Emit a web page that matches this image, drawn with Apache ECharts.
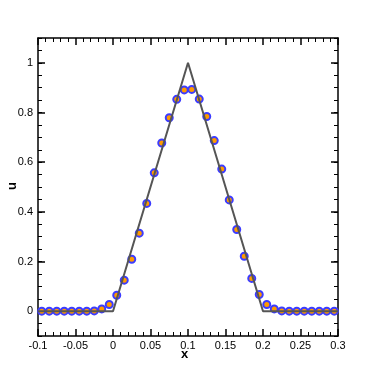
<!DOCTYPE html>
<html>
<head>
<meta charset="utf-8">
<script src="https://cdn.jsdelivr.net/npm/echarts@6/dist/echarts.min.js"></script>
<style>
  html, body { margin: 0; padding: 0; background: #fff; }
  #chart { width: 374px; height: 374px; }
</style>
</head>
<body>
<div id="chart"></div>
<script>
// cell-centre positions of the numerical solution
let xs = [-0.095, -0.085, -0.075, -0.065, -0.055, -0.045, -0.035, -0.025, -0.015, -0.005,
  0.005, 0.015, 0.025, 0.035, 0.045, 0.055, 0.065, 0.075, 0.085, 0.095,
  0.105, 0.115, 0.125, 0.135, 0.145, 0.155, 0.165, 0.175, 0.185, 0.195,
  0.205, 0.215, 0.225, 0.235, 0.245, 0.255, 0.265, 0.275, 0.285, 0.295];
let uNum = [0, 0, 0, 0, 0, 0, 0, 0.001, 0.009, 0.027,
  0.064, 0.125, 0.209, 0.314, 0.434, 0.557, 0.677, 0.779, 0.853, 0.891,
  0.893, 0.854, 0.784, 0.687, 0.572, 0.448, 0.329, 0.221, 0.132, 0.067,
  0.027, 0.009, 0.001, 0, 0, 0, 0, 0, 0, 0];
// exact solution (triangle)
let xExact = [-0.1, 0, 0.1, 0.2, 0.3];
let uExact = [0, 0, 1, 0, 0];
let yMajor = [0, 0.2, 0.4, 0.6, 0.8, 1];

let font = 'Liberation Sans, Arial, sans-serif';

function xAxis(pos, labels) {
  return {
    type: 'value', position: pos, min: -0.1, max: 0.3, interval: 0.05,
    axisLine: { show: true, onZero: false, lineStyle: { color: '#000', width: 1.5 } },
    axisTick: { show: true, inside: true, length: 7, lineStyle: { color: '#000', width: 1.5 } },
    minorTick: { show: true, splitNumber: 5, length: 4, lineStyle: { color: '#000', width: 1 } },
    axisLabel: { show: labels, color: '#000', fontSize: 11, fontFamily: font, margin: 4 },
    splitLine: { show: false }, minorSplitLine: { show: false }
  };
}
function yMajorAxis(pos, labels) {
  return {
    type: 'value', position: pos, min: -0.1, max: 1.1,
    axisLine: { show: true, onZero: false, lineStyle: { color: '#000', width: 1.5 } },
    axisTick: { show: true, inside: true, length: 7, customValues: yMajor, lineStyle: { color: '#000', width: 1.5 } },
    axisLabel: { show: labels, customValues: yMajor, color: '#000', fontSize: 11, fontFamily: font, margin: 5 },
    splitLine: { show: false }
  };
}
function yMinorAxis(pos) {
  return {
    type: 'value', position: pos, min: -0.1, max: 1.1, interval: 0.05,
    axisLine: { show: false, onZero: false },
    axisTick: { show: true, inside: true, length: 4, lineStyle: { color: '#000', width: 1 } },
    axisLabel: { show: false },
    splitLine: { show: false }
  };
}

let myChart = echarts.init(document.getElementById('chart'));
myChart.setOption({
  animation: false,
  backgroundColor: '#fff',
  grid: { left: 38, right: 36, top: 38, bottom: 38 },
  xAxis: [xAxis('bottom', true), xAxis('top', false)],
  yAxis: [yMajorAxis('left', true), yMinorAxis('left'), yMajorAxis('right', false), yMinorAxis('right')],
  graphic: [
    { type: 'text', left: 181, top: 348, style: { text: 'x', font: 'bold 13px ' + font, fill: '#000' } },
    { type: 'text', x: 6, y: 190, rotation: Math.PI / 2, style: { text: 'u', font: 'bold 13px ' + font, fill: '#000' } }
  ],
  series: [
    {
      type: 'line', xAxisIndex: 0, yAxisIndex: 0, showSymbol: false,
      lineStyle: { color: '#555', width: 2 },
      data: xExact.map((x, i) => [x, uExact[i]])
    },
    {
      type: 'scatter', xAxisIndex: 0, yAxisIndex: 0, symbol: 'circle', symbolSize: 7,
      itemStyle: { color: '#ff9a00', borderColor: '#3c3cff', borderWidth: 2, opacity: 1 },
      data: xs.map((x, i) => [x, uNum[i]])
    }
  ]
});
</script>
</body>
</html>
